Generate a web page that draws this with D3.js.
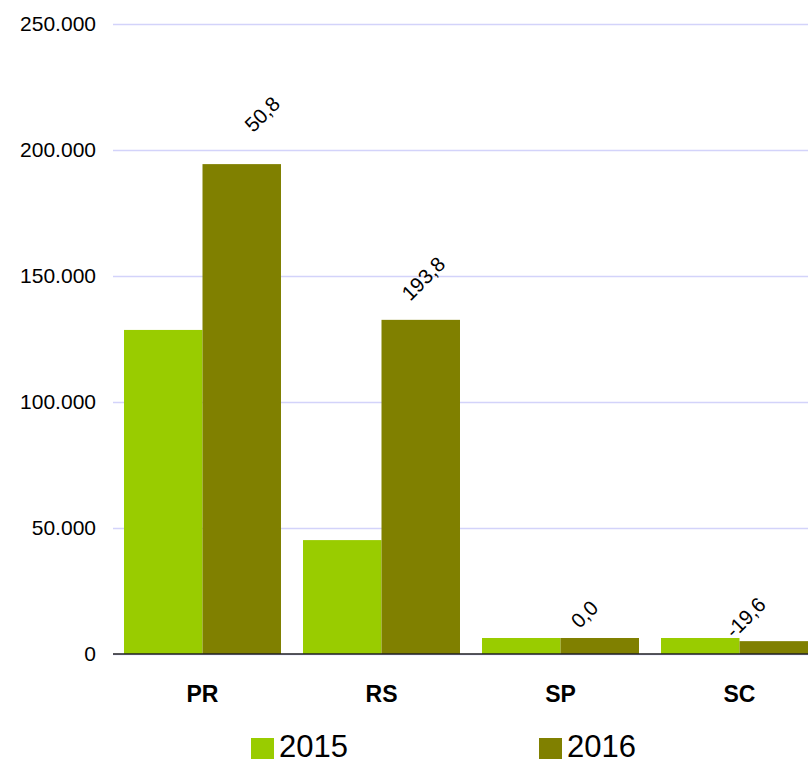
<!DOCTYPE html>
<html>
<head>
	<meta charset="utf-8">
	<title>PR RS SP SC 2015-2016</title>
	<style type="text/css">
		html, body {
			margin: 0;
			padding: 0;
			background-color: #fff;
		}
		svg text {
			font-family: Arial, "Liberation Sans", sans-serif;
			fill: #000;
		}
	</style>
</head>
<body>
	<div id="chart"></div>
	<script src="https://unpkg.com/d3@7.8.5/dist/d3.min.js"></script>
	<script type="text/javascript">
		const categories = ['PR', 'RS', 'SP', 'SC'];
		const series = ['2015', '2016'];
		const values2015 = [128600, 45200, 6350, 6350];
		const values2016 = [194400, 132600, 6350, 5100];
		const growthLabels = ['50,8', '193,8', '0,0', '-19,6'];
		const yTicks = [0, 50000, 100000, 150000, 200000, 250000];
		const colors = ['#99cc00', '#808000'];

		const width = 808;
		const height = 760;

		const svg = d3.select('#chart')
			.append('svg')
			.attr('width', width)
			.attr('height', height);

		const x0 = d3.scaleBand()
			.domain(categories)
			.range([113, 829])
			.paddingInner(0.123)
			.paddingOuter(0.0615);

		const x1 = d3.scaleBand()
			.domain(series)
			.range([0, x0.bandwidth()]);

		const y = d3.scaleLinear()
			.domain([0, 250000])
			.range([654, 24]);

		const fmt = v => d3.format(',')(v).replace(/,/g, '.');

		// grid + y labels
		const yAxis = d3.axisLeft(y)
			.tickValues(yTicks)
			.tickSize(-(width - 113))
			.tickPadding(17)
			.tickFormat(fmt);

		const gy = svg.append('g')
			.attr('transform', 'translate(113,0)')
			.call(yAxis);
		gy.select('.domain').remove();
		gy.selectAll('.tick line')
			.attr('stroke', '#d3d3fa')
			.attr('stroke-width', 1.5);
		gy.selectAll('.tick text')
			.attr('font-size', 21)
			.attr('fill', '#000');

		const rows = categories.map((c, i) => ({ cat: c, vals: [values2015[i], values2016[i]] }));

		const groups = svg.append('g')
			.selectAll('g')
			.data(rows)
			.join('g')
			.attr('transform', d => `translate(${x0(d.cat)},0)`);

		groups.selectAll('rect')
			.data(d => d.vals.map((v, j) => ({ key: series[j], v: v, j: j })))
			.join('rect')
			.attr('x', d => x1(d.key))
			.attr('width', x1.bandwidth())
			.attr('y', d => y(d.v))
			.attr('height', d => y(0) - y(d.v))
			.attr('fill', d => colors[d.j]);

		// x axis line
		svg.append('line')
			.attr('x1', 113)
			.attr('x2', width)
			.attr('y1', y(0))
			.attr('y2', y(0))
			.attr('stroke', '#222')
			.attr('stroke-width', 1.5);

		// category labels
		svg.append('g')
			.selectAll('text')
			.data(categories)
			.join('text')
			.attr('x', d => x0(d) + x0.bandwidth() / 2)
			.attr('y', 702)
			.attr('text-anchor', 'middle')
			.attr('font-size', 23)
			.attr('font-weight', 'bold')
			.text(d => d);

		// growth labels (rotated, above the 2016 bar)
		svg.append('g')
			.selectAll('text')
			.data(rows)
			.join('text')
			.attr('transform', (d, i) => {
				const cx = (x0(d.cat) + x0.bandwidth() / 2) * 0.9 + 80;
				const top = y(values2016[i]);
				const cy = top - 23 - 0.055 * (y(0) - top);
				return `translate(${cx},${cy}) rotate(-45)`;
			})
			.attr('text-anchor', 'middle')
			.attr('dy', '0.35em')
			.attr('font-size', 20.5)
			.text((d, i) => growthLabels[i]);

		// legend
		const legend = svg.append('g')
			.selectAll('g')
			.data(series)
			.join('g')
			.attr('transform', (d, i) => `translate(${251 + i * 288},738)`);

		legend.append('rect')
			.attr('width', 23)
			.attr('height', 21)
			.attr('fill', (d, i) => colors[i]);

		legend.append('text')
			.attr('x', 28)
			.attr('y', 19)
			.attr('font-size', 31)
			.text(d => d);
	</script>
</body>
</html>
